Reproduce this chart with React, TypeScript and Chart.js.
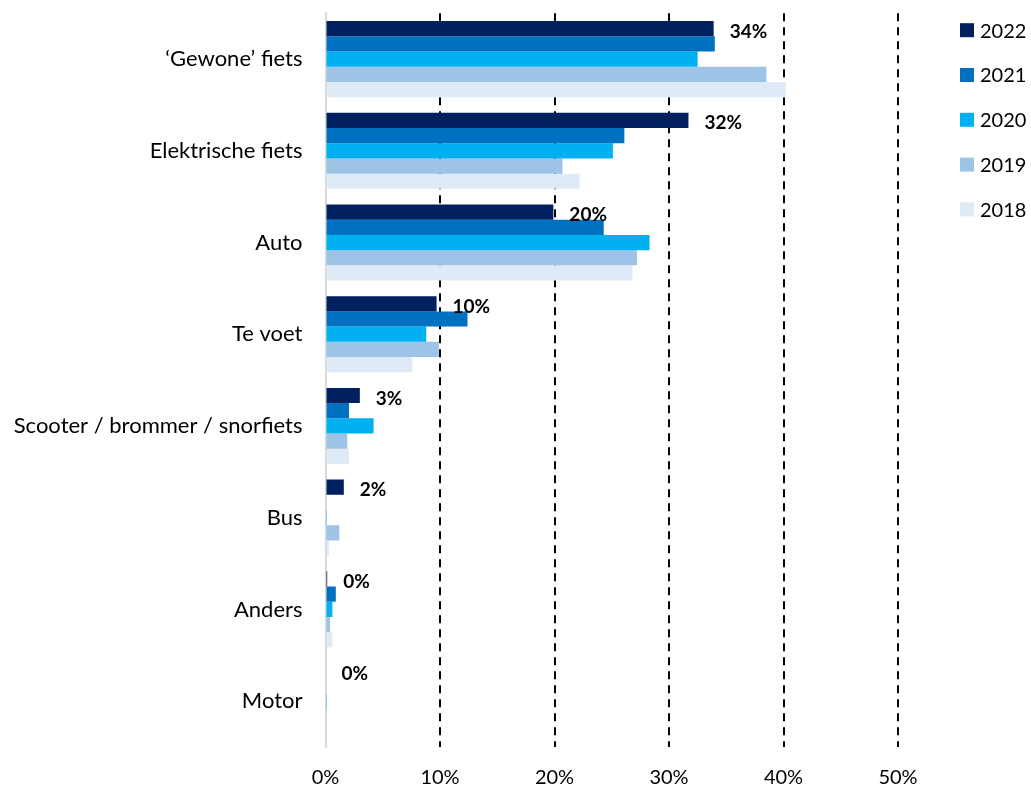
import React, { useEffect, useRef } from "react";
import { Chart, registerables } from "chart.js";

Chart.register(...registerables);

const categories = [
  "\u2018Gewone\u2019 fiets",
  "Elektrische fiets",
  "Auto",
  "Te voet",
  "Scooter / brommer / snorfiets",
  "Bus",
  "Anders",
  "Motor",
];

const years = ["2022", "2021", "2020", "2019", "2018"];

const values2022 = [33.9, 31.7, 19.9, 9.7, 3.0, 1.6, 0.15, 0];
const values2021 = [34.0, 26.1, 24.3, 12.4, 2.05, 0, 0.9, 0];
const values2020 = [32.5, 25.1, 28.3, 8.8, 4.2, 0.12, 0.6, 0.12];
const values2019 = [38.5, 20.7, 27.2, 9.9, 1.9, 1.2, 0.4, 0];
const values2018 = [40.2, 22.2, 26.8, 7.6, 2.05, 0.3, 0.6, 0];

const seriesColors = ["#002060", "#0070C0", "#00B0F0", "#9DC3E6", "#DEEBF7"];

const xTickValues = [0, 10, 20, 30, 40, 50];

const FONT = "Lato, 'Open Sans', sans-serif";

const valueLabelPlugin = {
  id: "valueLabels",
  afterDatasetsDraw(chart: any) {
    const ctx = chart.ctx;
    const meta = chart.getDatasetMeta(0);
    const data = chart.data.datasets[0].data as number[];
    ctx.save();
    ctx.font = `bold 19px ${FONT}`;
    ctx.fillStyle = "#000";
    ctx.textAlign = "left";
    ctx.textBaseline = "middle";
    meta.data.forEach((bar: any, i: number) => {
      ctx.fillText(`${Math.round(data[i])}%`, bar.x + 16, bar.y + 3);
    });
    ctx.restore();
  },
};

const customLegendPlugin = {
  id: "customLegend",
  afterDraw(chart: any) {
    const ctx = chart.ctx;
    const area = chart.chartArea;
    ctx.save();
    ctx.font = `20px ${FONT}`;
    ctx.textBaseline = "middle";
    ctx.textAlign = "left";
    chart.data.datasets.forEach((ds: any, i: number) => {
      const cy = area.top + 17 + i * 44.8;
      const bx = area.right + 62;
      ctx.fillStyle = ds.backgroundColor;
      ctx.fillRect(bx, cy - 7, 14, 14);
      ctx.fillStyle = "#000";
      ctx.fillText(ds.label, bx + 20, cy + 1);
    });
    ctx.restore();
  },
};

export default function App() {
  const canvasRef = useRef<HTMLCanvasElement | null>(null);

  useEffect(() => {
    if (!canvasRef.current) return;
    const allValues = [values2022, values2021, values2020, values2019, values2018];
    const chart = new Chart(canvasRef.current, {
      type: "bar",
      data: {
        labels: categories,
        datasets: years.map((y, i) => ({
          label: y,
          data: allValues[i],
          backgroundColor: seriesColors[i],
          borderWidth: 0,
          categoryPercentage: 0.83,
          barPercentage: 1,
        })),
      },
      options: {
        indexAxis: "y",
        animation: false,
        responsive: true,
        maintainAspectRatio: false,
        layout: { padding: { top: 0, right: 133, bottom: 0, left: 0 } },
        plugins: {
          legend: { display: false },
          tooltip: { enabled: false },
        },
        scales: {
          x: {
            min: 0,
            max: 50,
            afterBuildTicks: (scale: any) => {
              scale.ticks = xTickValues.map((v) => ({ value: v }));
            },
            ticks: {
              color: "#000",
              font: { family: FONT, size: 20 },
              padding: 19,
              callback: (v: any) => `${v}%`,
            },
            grid: {
              drawTicks: false,
              lineWidth: 2,
              color: (c: any) => (c.tick && c.tick.value === 0 ? "rgba(0,0,0,0)" : "#000"),
            },
            border: { display: false, dash: [8, 6] },
          },
          y: {
            ticks: {
              color: "#000",
              font: { family: FONT, size: 22 },
              padding: 0,
            },
            grid: { display: false, drawTicks: true, tickLength: 23 },
            border: { display: true, color: "#d9d9d9", width: 2 },
            afterFit: (scale: any) => {
              scale.width = 325.5;
            },
          },
        },
      },
      plugins: [valueLabelPlugin, customLegendPlugin],
    });
    return () => chart.destroy();
  }, []);

  return (
    <div style={{ position: "fixed", left: 0, top: 0, width: 1031, height: 809 }}>
      <canvas ref={canvasRef} />
    </div>
  );
}
